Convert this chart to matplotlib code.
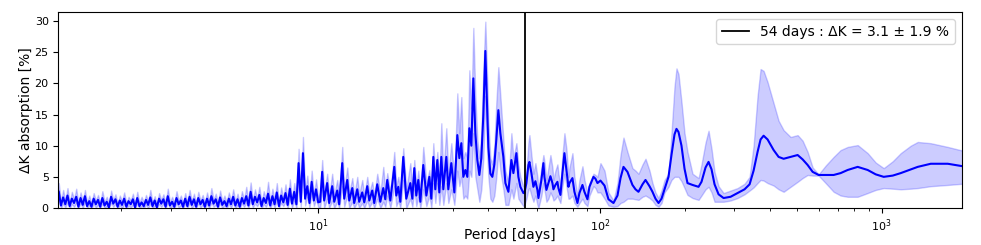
import numpy as np
import matplotlib
matplotlib.use("Agg")
import matplotlib.pyplot as plt

# --- short periods (1.2 - 10 d): dense periodogram
k_short = [2.6,0.4, 1.7,0.6, 2.0,0.3, 1.5,0.8, 1.8,0.2, 1.6,0.5, 1.9,0.3, 1.1,0.2,
           1.5,0.6, 1.3,0.2, 1.6,0.4, 1.0,0.1, 1.8,0.7, 1.4,0.2, 1.2,0.5, 1.5,0.2, 1.1,0.6, 1.4,0.1, 1.6,0.3, 0.9,0.3,
           1.3,0.5, 1.7,0.3, 1.2,0.1, 1.5,0.7, 1.4,0.2, 1.9,0.4, 1.0,0.2, 1.6,0.6, 1.2,0.2, 1.5,0.3, 1.8,0.5, 1.4,0.2,
           1.6,0.6, 1.3,0.2, 1.5,0.4, 1.9,0.7, 1.4,0.2, 1.7,0.5, 1.1,0.3, 1.5,0.6, 1.8,0.4, 1.4,0.2, 1.6,0.7, 1.9,0.4,
           2.6,0.6, 1.8,0.9, 2.1,0.3, 1.6,0.8, 2.3,0.4, 1.9,0.6, 2.5,0.3, 2.0,0.9,
           2.4,0.5, 3.1,0.7, 2.6,0.6, 7.2,1.0, 8.8,1.5, 3.5,0.8, 4.2,1.2, 3.0,0.9]
k_short_hi = [4.0,1.0, 2.9,1.2, 3.2,0.9, 2.6,1.4, 3.1,0.8, 2.5,1.1, 2.9,0.9, 2.0,0.7,
              2.4,1.2, 2.1,0.8, 2.7,1.0, 1.8,0.6, 2.8,1.3, 2.2,0.8, 2.0,1.1, 2.5,0.8, 1.8,1.2, 2.3,0.6, 2.6,0.9, 1.8,0.9,
              2.1,1.1, 2.9,0.9, 1.9,0.6, 2.4,1.3, 2.2,0.8, 3.1,1.0, 1.8,0.8, 2.7,1.2, 2.0,0.8, 2.4,0.9, 2.9,1.1, 2.3,0.8,
              2.6,1.2, 2.1,0.8, 2.5,1.0, 3.2,1.3, 2.3,0.8, 2.8,1.1, 2.0,0.9, 2.5,1.2, 3.0,1.0, 2.3,0.8, 2.7,1.3, 3.4,1.0,
              4.1,1.2, 3.0,1.5, 3.4,0.9, 2.7,1.4, 4.2,1.0, 3.1,1.2, 4.0,0.9, 3.3,1.5,
              3.8,1.1, 4.6,1.3, 4.0,1.2, 9.5,1.8, 11.4,2.5, 5.2,1.5, 6.0,2.0, 4.6,1.6]
k_short_lo = [1.3,0.0, 0.7,0.1, 0.9,0.0, 0.6,0.2, 0.8,0.0, 0.7,0.0, 0.9,0.0, 0.4,0.0,
              0.6,0.1, 0.5,0.0, 0.7,0.0, 0.3,0.0, 0.8,0.2, 0.6,0.0, 0.4,0.0, 0.6,0.0, 0.4,0.1, 0.5,0.0, 0.7,0.0, 0.3,0.0,
              0.5,0.0, 0.7,0.0, 0.4,0.0, 0.6,0.2, 0.6,0.0, 0.8,0.0, 0.3,0.0, 0.7,0.1, 0.4,0.0, 0.6,0.0, 0.8,0.0, 0.5,0.0,
              0.7,0.1, 0.5,0.0, 0.6,0.0, 0.8,0.2, 0.5,0.0, 0.7,0.0, 0.4,0.0, 0.6,0.1, 0.8,0.0, 0.5,0.0, 0.7,0.2, 0.8,0.0,
              1.2,0.1, 0.7,0.3, 0.9,0.0, 0.6,0.2, 0.9,0.0, 0.8,0.1, 1.1,0.0, 0.8,0.3,
              1.0,0.0, 1.5,0.1, 1.1,0.0, 4.5,0.2, 6.0,0.4, 1.8,0.1, 2.4,0.3, 1.4,0.2]
# sampling grid of the periodogram in this range
p_short = np.geomspace(1.2, 10.0, len(k_short))

# --- 10 - 54 d
p_mid = [10.16,10.33,10.50,10.76,10.94,11.21,11.40,11.68,11.87,12.17,12.37,12.68,12.89,13.21,13.42,13.76,13.98,14.33,14.57,14.93,15.18,15.55,15.81,16.20,16.61,17.02,17.30,
         17.58,18.03,18.62,18.93,19.24,19.56,20.04,20.54,21.23,21.58,21.93,22.29,22.66,23.04,23.60,24.20,24.80,25.20,25.62,26.04,26.47,26.91,27.35,27.80,28.49,28.96,29.68,30.42,
         31.17,31.69,32.21,32.74,33.28,33.83,34.39,34.96,35.53,36.12,36.71,37.32,37.93,38.56,39.19,39.84,40.17,40.83,41.50,42.19,42.88,43.59,44.31,45.41,46.17,47.32,48.49,49.29,50.51,51.34,52.19,53.48]
k_mid = [1.0,5.8,1.2,4.0,0.8,3.5,1.0,2.8,0.6,7.2,1.5,4.5,1.2,3.2,0.8,3.0,1.0,2.5,0.9,3.5,1.2,2.8,0.8,3.8,1.0,3.2,1.4,
         4.5,1.2,6.6,2.0,3.4,1.0,8.2,1.5,4.0,1.5,6.4,2.0,4.5,1.0,6.9,2.0,5.0,1.5,8.2,3.0,7.7,2.5,8.2,3.0,8.2,3.0,7.2,2.5,
         11.7,8.0,10.4,5.0,6.1,5.0,12.8,10.0,20.8,12.0,7.7,5.3,8.0,15.0,25.2,15.0,9.8,5.5,5.0,7.0,11.0,15.7,12.0,8.2,4.0,2.6,7.7,5.6,8.8,5.0,3.4,2.4]
k_mid_hi = [2.5,7.7,2.5,5.5,2.0,5.5,2.2,4.5,1.6,9.8,3.0,6.5,2.5,4.8,2.0,5.0,2.2,4.5,2.0,5.0,2.5,4.2,2.0,5.5,2.4,6.6,3.0,
            5.6,2.5,9.0,3.5,5.0,2.5,9.6,3.0,7.2,3.0,7.7,3.5,6.0,2.5,9.8,4.0,6.1,3.0,10.4,5.0,9.0,4.5,13.6,5.5,12.8,5.5,10.4,4.5,
            18.4,12.0,17.8,8.0,9.0,8.0,22.1,16.0,28.9,18.0,11.0,8.0,12.0,22.0,29.9,20.0,14.0,8.0,7.0,10.0,17.0,22.6,18.0,11.0,6.0,4.0,12.0,8.0,10.4,7.0,5.0,3.5]
k_mid_lo = [0.0,3.0,0.0,1.5,0.0,1.2,0.0,1.0,0.0,3.5,0.2,2.0,0.0,1.0,0.0,1.0,0.0,0.8,0.0,1.2,0.1,1.0,0.0,1.5,0.0,1.0,0.2,
            2.0,0.0,3.5,0.3,1.2,0.0,4.5,0.0,1.5,0.2,3.0,0.3,1.8,0.0,3.0,0.3,2.0,0.0,4.0,0.8,4.0,0.5,3.5,0.5,4.0,0.8,3.0,0.5,
            6.0,3.5,5.0,1.5,2.0,1.5,6.0,5.0,12.0,5.0,3.0,1.0,3.0,8.0,18.0,8.0,5.0,1.5,1.0,2.0,5.0,9.0,6.0,3.0,0.5,0.5,3.0,1.5,4.0,1.5,1.0,0.3]

# --- 54 - 1940 d
p_long = [53.93,54.82,55.73,56.19,57.11,58.05,59.01,59.98,60.48,61.97,
          62.99,63.51,64.56,65.63,66.71,67.81,68.37,69.49,70.63,71.22,
          72.39,73.59,74.80,76.03,77.29,77.93,79.86,81.17,83.19,84.56,
          86.67,88.09,90.28,91.77,94.83,96.39,97.98,
          100.4,103.8,107.2,111.7,115.4,118.3,121.2,125.2,130.4,133.7,
          137.0,141.6,145.1,149.9,153.6,157.4,161.4,165.4,169.5,175.1,
          179.4,183.9,186.9,190.0,194.7,199.6,204.5,213.1,223.8,229.3,
          237.0,242.9,248.9,255.1,263.6,274.6,290.8,307.9,326.0,339.7,
          351.0,362.6,371.6,380.9,393.5,413.4,430.6,448.6,475.0,503.0,
          524.0,545.9,568.7,597.3,632.5,675.2,714.9,757.1,821.7,891.7,
          952.1,1016.5,1094.2,1168.3,1267.9,1342.4,1493.2,1716,1940]
k_long = [2.4,4.0,6.9,7.4,5.6,3.4,4.3,2.9,1.6,4.5,
          7.2,5.0,2.9,4.0,5.1,4.0,3.0,3.7,4.2,3.2,
          2.1,5.6,8.8,6.1,3.4,4.0,4.8,2.6,0.8,2.4,
          3.7,2.6,1.4,3.4,5.0,4.7,4.0,
          4.4,3.6,1.4,0.8,2.0,4.8,6.6,5.8,3.7,3.0,
          2.6,3.8,4.5,3.5,2.6,1.5,0.8,1.5,3.0,5.0,
          8.5,11.8,12.7,12.2,10.0,6.3,4.0,3.7,3.4,4.2,
          6.5,7.4,6.2,3.8,2.2,1.6,1.8,2.4,3.0,3.8,
          6.0,9.0,11.0,11.6,11.0,9.3,8.2,7.9,8.2,8.5,
          7.8,6.9,5.8,5.3,5.3,5.3,5.6,6.1,6.6,6.1,
          5.4,5.0,5.2,5.6,6.2,6.6,7.1,7.1,6.7]
k_long_hi = [3.5,6.0,10.5,11.7,8.5,5.5,7.2,5.0,3.0,6.5,
             8.5,7.5,4.5,6.5,8.5,6.5,4.5,6.0,7.0,5.5,
             3.5,8.5,12.0,9.5,5.0,6.5,8.8,5.0,2.0,4.5,
             6.7,4.5,2.5,4.0,5.5,5.3,5.0,
             7.2,6.0,2.5,1.2,4.0,8.5,11.3,9.0,6.4,6.0,
             5.5,7.0,7.9,6.0,4.0,2.5,1.6,2.8,4.5,5.5,
             12.0,19.5,22.4,21.5,17.0,12.0,9.0,5.5,4.8,7.0,
             10.5,12.4,9.5,5.8,3.5,2.4,2.8,3.2,3.9,5.0,
             10.0,18.0,22.3,22.0,20.2,16.8,14.0,12.5,11.4,11.7,
             10.8,9.0,6.5,5.4,6.8,8.2,9.3,9.8,10.1,8.8,
             7.3,6.4,7.5,8.8,10.0,10.6,10.4,9.8,9.2]
k_long_lo = [0.5,1.5,3.0,3.2,2.0,1.0,2.0,0.5,0.0,2.0,
             4.0,3.0,1.0,1.5,2.5,1.8,1.2,1.5,2.0,1.5,
             0.8,3.5,5.5,3.5,1.5,1.5,2.0,0.8,0.2,0.8,
             1.5,0.8,0.3,2.0,3.5,3.2,2.5,
             2.5,1.5,0.4,0.2,0.3,0.8,1.0,1.5,1.5,1.4,
             1.3,1.8,2.0,1.6,1.2,0.5,0.2,0.8,2.5,3.4,
             4.5,5.0,5.0,5.0,4.3,3.2,2.1,1.6,1.3,2.0,
             3.0,3.4,2.5,1.0,1.0,1.0,1.2,1.6,2.2,2.8,
             3.3,4.0,4.5,4.4,4.0,3.6,3.0,2.6,3.4,4.2,
             4.8,5.3,5.2,5.2,4.0,2.6,2.0,1.8,1.8,2.4,
             2.9,3.2,3.1,3.0,3.1,3.2,3.5,3.7,3.9]

best_period = 54
label = "54 days : ΔK = 3.1 ± 1.9 %"

period = np.concatenate([p_short, p_mid, p_long])
dk = np.concatenate([k_short, k_mid, k_long])
dk_hi = np.concatenate([k_short_hi, k_mid_hi, k_long_hi])
dk_lo = np.concatenate([k_short_lo, k_mid_lo, k_long_lo])

fig = plt.figure(figsize=(9.81, 2.45), dpi=100)
ax = fig.add_axes([0.0596, 0.151, 0.921, 0.80])

ax.fill_between(period, dk_lo, dk_hi, color="blue", alpha=0.2, lw=1)
ax.plot(period, dk, color="blue", lw=1.5)
ax.axvline(best_period, color="black", lw=1.3, label=label)

ax.set_xscale("log")
ax.set_xlim(1.197, 1927)
ax.set_ylim(0, 31.45)
ax.set_yticks([0, 5, 10, 15, 20, 25, 30])
ax.tick_params(labelsize=8)
ax.set_xlabel("Period [days]", fontsize=10)
ax.set_ylabel("ΔK absorption [%]", fontsize=10)
ax.xaxis.set_label_coords(0.5, -0.10)
ax.yaxis.set_label_coords(-0.028, 0.5)
ax.legend(loc="upper right", fontsize=10)

fig.savefig("out.png", dpi=100)
